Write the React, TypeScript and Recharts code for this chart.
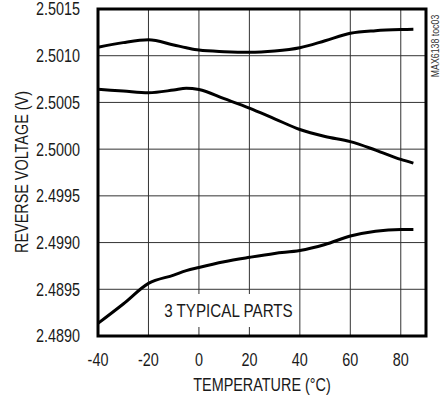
import { LineChart, Line, XAxis, YAxis, CartesianGrid, ReferenceArea } from 'recharts'

const temps = [-40, -30, -20, -10, -5, 0, 10, 20, 30, 40, 50, 60, 70, 80, 85]
const partA = [2.50109, 2.50114, 2.50117, 2.501115, 2.501085, 2.50106, 2.501043, 2.501036, 2.50105, 2.501085, 2.50116, 2.50124, 2.501268, 2.50128, 2.501283]
const partB = [2.50064, 2.500622, 2.500604, 2.500633, 2.500652, 2.500638, 2.50054, 2.50044, 2.500325, 2.50021, 2.500135, 2.50008, 2.49999, 2.49989, 2.49985]
const partC = [2.498135, 2.498342, 2.498563, 2.498652, 2.4987, 2.498734, 2.498795, 2.498842, 2.498884, 2.498915, 2.49898, 2.49907, 2.499122, 2.49914, 2.49914]

const xTicks = [-40, -20, 0, 20, 40, 60, 80]
const yTicks = [2.498, 2.4985, 2.499, 2.4995, 2.5, 2.5005, 2.501, 2.5015]
// labels as printed on the original (bottom two carry the datasheet's typo)
const yTickLabels = ['2.4890', '2.4895', '2.4990', '2.4995', '2.5000', '2.5005', '2.5010', '2.5015']

const xDomain = [-40, 90]
const yDomain = [2.498, 2.5015]

const data = temps.map((t, i) => ({ t, a: partA[i], b: partB[i], c: partC[i] }))

const font = '"Liberation Sans", Arial, sans-serif'
const ink = '#1a1a1a'
const squeeze = 0.8

function NarrowText({ x, y, anchor, size = 18, dy = '0', children }: any) {
  return (
    <g transform={`translate(${x},${y}) scale(${squeeze},1)`}>
      <text x={0} y={0} dy={dy} textAnchor={anchor} fill={ink} fontSize={size} fontFamily={font}>
        {children}
      </text>
    </g>
  )
}

function XTick({ x, y, payload }: any) {
  return <NarrowText x={x} y={y} anchor="middle" dy="0.71em">{payload.value}</NarrowText>
}

function YTick({ x, y, index }: any) {
  return <NarrowText x={x} y={y} anchor="end" dy="0.36em">{yTickLabels[index]}</NarrowText>
}

function BoxLabel({ viewBox }: any) {
  const { x, y, width, height } = viewBox
  return <NarrowText x={x + width / 2} y={y + height / 2} anchor="middle" size={19} dy="0.36em">3 TYPICAL PARTS</NarrowText>
}

const overlay = (left: number, top: number, rotate: number, size: number): any => ({
  position: 'absolute',
  left,
  top,
  transform: `translate(-50%, -50%) rotate(${rotate}deg) scale(${squeeze}, 1)`,
  fontFamily: font,
  fontSize: size,
  color: ink,
  whiteSpace: 'nowrap',
  lineHeight: 1,
})

export default function App() {
  return (
    <div style={{ position: 'absolute', left: 0, top: 0, width: 445, height: 401, background: '#fff' }}>
      <LineChart width={445} height={401} data={data} margin={{ top: 9, right: 19, bottom: 35, left: 10 }}>
        <CartesianGrid stroke="#333" strokeWidth={1} />
        <XAxis
          dataKey="t"
          type="number"
          domain={xDomain}
          ticks={xTicks}
          height={30}
          tickSize={0}
          tickMargin={17}
          axisLine={false}
          tick={<XTick />}
        />
        <YAxis
          type="number"
          domain={yDomain}
          ticks={yTicks}
          width={88}
          tickSize={0}
          tickMargin={18}
          axisLine={false}
          tick={<YTick />}
        />
        <ReferenceArea
          x1={-12.4}
          x2={35.8}
          y1={2.498095}
          y2={2.498449}
          fill="#fff"
          fillOpacity={1}
          stroke="none"
          label={<BoxLabel />}
        />
        <Line type="monotone" dataKey="a" stroke="#000" strokeWidth={3} dot={false} isAnimationActive={false} />
        <Line type="monotone" dataKey="b" stroke="#000" strokeWidth={3} dot={false} isAnimationActive={false} />
        <Line type="monotone" dataKey="c" stroke="#000" strokeWidth={3} dot={false} isAnimationActive={false} />
        <ReferenceArea x1={xDomain[0]} x2={xDomain[1]} y1={yDomain[0]} y2={yDomain[1]} fill="none" stroke="#000" strokeWidth={3} />
      </LineChart>
      <div style={overlay(262, 385, 0, 18)}>TEMPERATURE (°C)</div>
      <div style={overlay(22, 172, -90, 18)}>REVERSE VOLTAGE (V)</div>
      <div style={{ ...overlay(435, 46, -90, 11), color: '#333' }}>MAX6138 toc03</div>
    </div>
  )
}
